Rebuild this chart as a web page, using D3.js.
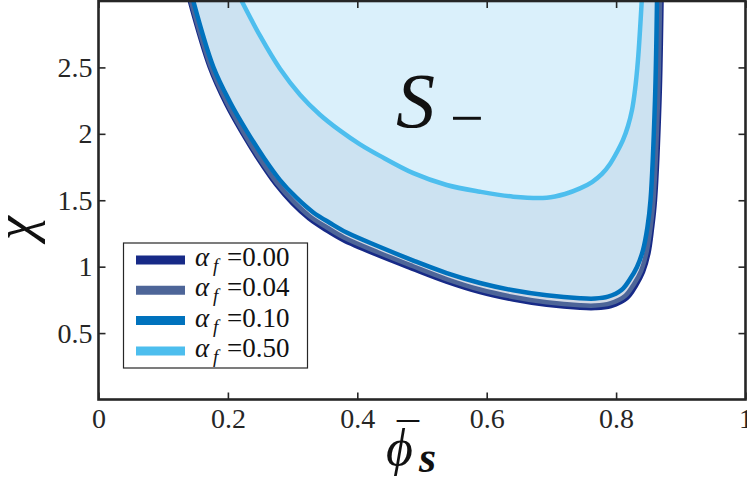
<!DOCTYPE html>
<html>
<head>
<meta charset="utf-8">
<script src="https://cdn.jsdelivr.net/npm/d3@7"></script>
<style>
  html, body { margin: 0; padding: 0; background: #fff; }
  svg { display: block; }
</style>
</head>
<body>
<svg id="chart" width="747" height="477" font-family="Liberation Serif"></svg>
<script>
// ---------------- data ----------------
const xTicks = [0, 0.2, 0.4, 0.6, 0.8, 1];
const xTickLabels = ["0", "0.2", "0.4", "0.6", "0.8", "1"];
const yTicks = [0.5, 1, 1.5, 2, 2.5];
const yTickLabels = ["0.5", "1", "1.5", "2", "2.5"];

const alphaLabels = ["0.00", "0.04", "0.10", "0.50"];
const seriesColors = ["#172a87", "#4d6598", "#0072bd", "#4dbeee"];

// alpha_f = 0.00
const phi000 = [0.1411,0.1720,0.1975,0.2230,0.2485,0.2743,0.2998,0.3253,0.3516,0.3779,0.4312,0.4845,0.5376,0.5896,0.6411,0.6927,0.7442,0.7674,0.7921,0.8168,0.8308,0.8416,0.8501,0.8555,0.8601,0.8671,0.8702];
const chi000 = [3.0,2.501,2.222,1.999,1.799,1.619,1.476,1.363,1.276,1.201,1.088,0.986,0.888,0.809,0.753,0.713,0.690,0.688,0.704,0.764,0.858,0.960,1.103,1.287,1.502,2.255,3.0];
// alpha_f = 0.04
const phi004 = [0.1427,0.1736,0.1991,0.2246,0.2501,0.2759,0.3014,0.3269,0.3532,0.3794,0.4328,0.4853,0.5379,0.5896,0.6411,0.6927,0.7442,0.7674,0.7906,0.8138,0.8277,0.8385,0.8470,0.8532,0.8578,0.8648,0.8679];
const chi004 = [3.0,2.503,2.228,2.006,1.807,1.630,1.491,1.378,1.295,1.220,1.107,1.005,0.907,0.828,0.772,0.732,0.709,0.707,0.723,0.779,0.870,0.967,1.107,1.291,1.502,2.255,3.0];
// alpha_f = 0.10
const phi010 = [0.1465,0.1774,0.2032,0.2291,0.2547,0.2805,0.3063,0.3320,0.3578,0.3836,0.4351,0.4866,0.5382,0.5896,0.6411,0.6927,0.7442,0.7674,0.7875,0.8083,0.8215,0.8323,0.8416,0.8485,0.8532,0.8601,0.8632];
const chi010 = [3.0,2.505,2.240,2.021,1.826,1.652,1.517,1.408,1.329,1.257,1.148,1.046,0.952,0.877,0.822,0.784,0.762,0.760,0.774,0.824,0.907,0.998,1.125,1.299,1.502,2.255,3.0];
// alpha_f = 0.50
const phi050 = [0.2213,0.2496,0.2805,0.3114,0.3423,0.3733,0.4042,0.4351,0.4866,0.5382,0.5896,0.6411,0.6927,0.7210,0.7442,0.7628,0.7782,0.7906,0.8014,0.8107,0.8184,0.8246,0.8292,0.8338,0.8396];
const chi050 = [3.0,2.739,2.490,2.295,2.144,2.024,1.921,1.834,1.704,1.615,1.564,1.527,1.519,1.547,1.589,1.637,1.698,1.773,1.863,1.954,2.059,2.180,2.330,2.556,3.0];

const seriesPhi = [phi000, phi004, phi010, phi050];
const seriesChi = [chi000, chi004, chi010, chi050];
const fillColors = [null, "#d3d9e4", "#cce2f1", "#daf0fb"];

// ---------------- layout ----------------
const FONT = "Liberation Serif";
const svg = d3.select("#chart");
const L = 98.5, R = 745.5, T = 1, B = 399.5;
const x = d3.scaleLinear().domain([0, 1]).range([L, R]);
const y = d3.scaleLinear().domain([0, 3]).range([B, T]);

svg.append("defs").append("clipPath").attr("id", "plotclip")
  .append("rect").attr("x", L).attr("y", T).attr("width", R - L).attr("height", B - T);

const plot = svg.append("g").attr("clip-path", "url(#plotclip)");

const line = d3.line()
  .x(d => x(d[0])).y(d => y(d[1]))
  .curve(d3.curveCatmullRom.alpha(0.5));

const seriesPts = seriesPhi.map((ph, i) => ph.map((p, j) => [p, seriesChi[i][j]]));

seriesPts.forEach((pts, i) => {
  if (!fillColors[i]) return;
  plot.append("path").attr("d", line(pts) + "Z")
    .attr("fill", fillColors[i]).attr("stroke", "none");
});
seriesPts.forEach((pts, i) => {
  plot.append("path").attr("d", line(pts))
    .attr("fill", "none").attr("stroke", seriesColors[i])
    .attr("stroke-width", 4.5).attr("stroke-linejoin", "round");
});

// ---------------- axes ----------------
const axisColor = "#262626";
function styleAxis(g) {
  g.attr("font-family", FONT).attr("font-size", 28);
  g.select(".domain").remove();
  g.selectAll(".tick line").attr("stroke", axisColor).attr("stroke-width", 1.6);
  g.selectAll(".tick text").attr("fill", axisColor).attr("font-family", FONT).attr("font-size", 28);
}
svg.append("g").attr("transform", `translate(0,${B})`)
  .call(d3.axisBottom(x).tickValues(xTicks).tickFormat((d, i) => xTickLabels[i]).tickSizeInner(-7).tickSizeOuter(0).tickPadding(9))
  .call(styleAxis);
svg.append("g").attr("transform", `translate(0,${T})`)
  .call(d3.axisTop(x).tickValues(xTicks).tickFormat("").tickSizeInner(-7).tickSizeOuter(0))
  .call(styleAxis);
svg.append("g").attr("transform", `translate(${L},0)`)
  .call(d3.axisLeft(y).tickValues(yTicks).tickFormat((d, i) => yTickLabels[i]).tickSizeInner(-7).tickSizeOuter(0).tickPadding(6))
  .call(styleAxis);
svg.append("g").attr("transform", `translate(${R},0)`)
  .call(d3.axisRight(y).tickValues(yTicks).tickFormat("").tickSizeInner(-7).tickSizeOuter(0))
  .call(styleAxis);

svg.append("rect").attr("x", L).attr("y", T).attr("width", R - L).attr("height", B - T)
  .attr("fill", "none").attr("stroke", axisColor).attr("stroke-width", 2.6);

// ---------------- labels ----------------
const ink = "#111";
svg.append("text")
  .attr("transform", "translate(33,228) rotate(-90)")
  .attr("text-anchor", "middle")
  .attr("font-family", FONT).attr("font-size", 54).attr("font-style", "italic")
  .attr("fill", ink).text("χ");

svg.append("text").attr("x", 386).attr("y", 465)
  .attr("font-family", FONT).attr("font-size", 52).attr("font-style", "italic")
  .attr("fill", ink).text("ϕ");
svg.append("text").attr("x", 397).attr("y", 454)
  .attr("font-family", FONT).attr("font-size", 44)
  .attr("fill", ink).text("¯");
svg.append("text").attr("x", 419).attr("y", 472)
  .attr("font-family", FONT).attr("font-size", 44).attr("font-style", "italic").attr("font-weight", "bold")
  .attr("fill", ink).text("s");

svg.append("text").attr("x", 396).attr("y", 127)
  .attr("font-family", FONT).attr("font-size", 78).attr("font-style", "italic")
  .attr("fill", ink).text("S");
svg.append("text").attr("x", 450).attr("y", 138)
  .attr("font-family", FONT).attr("font-size", 60)
  .attr("fill", ink).text("−");

// ---------------- legend ----------------
const lg = svg.append("g");
lg.append("rect").attr("x", 123.5).attr("y", 243).attr("width", 184).attr("height", 125)
  .attr("fill", "#fff").attr("stroke", axisColor).attr("stroke-width", 1.2);
alphaLabels.forEach((lab, i) => {
  const cy = 260 + i * 30.3;
  lg.append("line").attr("x1", 136).attr("x2", 185).attr("y1", cy).attr("y2", cy)
    .attr("stroke", seriesColors[i]).attr("stroke-width", 9);
  const t = lg.append("text").attr("x", 195).attr("y", cy + 6)
    .attr("font-family", FONT).attr("font-size", 27).attr("fill", ink);
  t.append("tspan").attr("font-style", "italic").text("α");
  t.append("tspan").attr("x", 213).attr("dy", 6).attr("font-style", "italic").attr("font-size", 19).text("f");
  t.append("tspan").attr("x", 227).attr("dy", -6).text("=" + lab);
});
</script>
</body>
</html>
